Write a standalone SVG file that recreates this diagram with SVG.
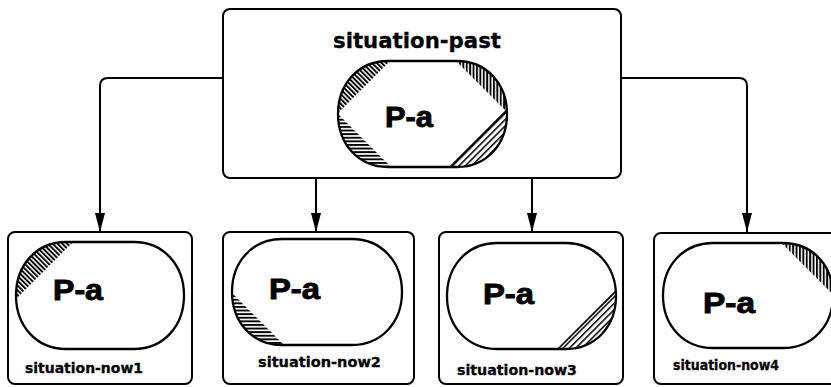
<svg xmlns="http://www.w3.org/2000/svg" xmlns:xlink="http://www.w3.org/1999/xlink" width="831" height="387" viewBox="0 0 831 387">
<style>
.box{fill:#fff;stroke:#000;stroke-width:2}
.st{fill:none;stroke:#000;stroke-width:2.3}
.conn{fill:none;stroke:#000;stroke-width:2}
.lbl{font-family:"DejaVu Sans","Liberation Sans",sans-serif;font-weight:bold;fill:#000;stroke:#000;stroke-width:0.3}
.pa{font-family:"Liberation Sans","DejaVu Sans",sans-serif;font-weight:bold;font-size:29px;fill:#000;stroke:#000;stroke-width:0.9}
</style>
<defs>
<marker id="arr" viewBox="0 0 19 10" refX="19" refY="5" markerWidth="19" markerHeight="10" markerUnits="userSpaceOnUse" orient="auto">
<path d="M0,0 L19,5 L0,10 Z" fill="#000"/>
</marker>
<pattern id="hBack" width="3.4" height="10" patternUnits="userSpaceOnUse" patternTransform="rotate(-45)"><rect width="1.9" height="10" fill="#000"/></pattern>
<pattern id="hVert" width="3.4" height="10" patternUnits="userSpaceOnUse"><rect width="1.9" height="10" fill="#000"/></pattern>
<pattern id="hHor" width="10" height="3.6" patternUnits="userSpaceOnUse"><rect width="10" height="1.9" fill="#000"/></pattern>
<pattern id="hFwd" width="4.5" height="10" patternUnits="userSpaceOnUse" patternTransform="rotate(45)"><rect width="1.5" height="10" fill="#000"/></pattern>
<path id="s0" d="M388,61 H457 C486,61 507,83.3 507,114 C507,144.7 486,167 457,167 H388 C359,167 338,144.7 338,114 C338,83.3 359,61 388,61 Z"/>
<path id="s1" d="M66,242 H134 C163,242 184,264.5 184,295.5 C184,326.5 163,349 134,349 H66 C37,349 16,326.5 16,295.5 C16,264.5 37,242 66,242 Z"/>
<path id="s2" d="M282,239 H352 C381,239 402,261.3 402,292 C402,322.7 381,345 352,345 H282 C253,345 232,322.7 232,292 C232,261.3 253,239 282,239 Z"/>
<path id="s3" d="M497,243 H566 C595,243 616,265.3 616,296 C616,326.7 595,349 566,349 H497 C468,349 447,326.7 447,296 C447,265.3 468,243 497,243 Z"/>
<path id="s4" d="M713,243 H783 C812,243 833,265 833,295.5 C833,326 812,348 783,348 H713 C684,348 663,326 663,295.5 C663,265 684,243 713,243 Z"/>
<clipPath id="c0"><use xlink:href="#s0"/></clipPath>
<clipPath id="c1"><use xlink:href="#s1"/></clipPath>
<clipPath id="c2"><use xlink:href="#s2"/></clipPath>
<clipPath id="c3"><use xlink:href="#s3"/></clipPath>
<clipPath id="c4"><use xlink:href="#s4"/></clipPath>
</defs>
<rect width="831" height="387" fill="#fff"/>
<g id="connectors">
<path class="conn" d="M223,78 H108 Q100,78 100,86 V232" marker-end="url(#arr)"/>
<path class="conn" d="M621,78 H739 Q747,78 747,86 V232" marker-end="url(#arr)"/>
<path class="conn" d="M316,178 V232" marker-end="url(#arr)"/>
<path class="conn" d="M532,178 V232" marker-end="url(#arr)"/>
</g>
<g id="situation-past">
<rect class="box" x="223" y="9" width="398" height="169" rx="7"/>
<text class="lbl" x="333" y="48" font-size="21" textLength="168" lengthAdjust="spacingAndGlyphs">situation-past</text>
<use xlink:href="#s0" fill="#fff"/>
<g clip-path="url(#c0)">
<polygon points="395,56 333,118 330,50" fill="url(#hBack)"/>
<polygon points="452,57 514,119 514,50" fill="url(#hVert)"/>
<polygon points="333,109 396,172 333,172" fill="url(#hHor)"/>
<polygon points="513,104 445,172 513,172" fill="url(#hFwd)"/>
<line x1="513" y1="104" x2="445" y2="172" stroke="#000" stroke-width="1.6"/>
</g>
<use xlink:href="#s0" class="st"/>
<text class="pa" x="385" y="127" textLength="48" lengthAdjust="spacingAndGlyphs">P-a</text>
</g>
<g id="situation-now1">
<rect class="box" x="8" y="232" width="184" height="152" rx="7"/>
<use xlink:href="#s1" fill="#fff"/>
<g clip-path="url(#c1)">
<polygon points="76,239 12,303 12,239" fill="url(#hBack)"/>
</g>
<use xlink:href="#s1" class="st"/>
<text class="pa" x="53" y="300" textLength="50" lengthAdjust="spacingAndGlyphs">P-a</text>
<text class="lbl" x="25" y="373" font-size="14" textLength="118" lengthAdjust="spacingAndGlyphs">situation-now1</text>
</g>
<g id="situation-now2">
<rect class="box" x="223" y="232" width="191" height="152" rx="7"/>
<use xlink:href="#s2" fill="#fff"/>
<g clip-path="url(#c2)">
<polygon points="228,289 288,349 228,349" fill="url(#hHor)"/>
</g>
<use xlink:href="#s2" class="st"/>
<text class="pa" x="269" y="299" textLength="51" lengthAdjust="spacingAndGlyphs">P-a</text>
<text class="lbl" x="258" y="367" font-size="14" textLength="123" lengthAdjust="spacingAndGlyphs">situation-now2</text>
</g>
<g id="situation-now3">
<rect class="box" x="439" y="232" width="184" height="152" rx="7"/>
<use xlink:href="#s3" fill="#fff"/>
<g clip-path="url(#c3)">
<polygon points="620,287 554,353 620,353" fill="url(#hFwd)"/>
<line x1="620" y1="287" x2="554" y2="353" stroke="#000" stroke-width="1.6"/>
</g>
<use xlink:href="#s3" class="st"/>
<text class="pa" x="483" y="304" textLength="51" lengthAdjust="spacingAndGlyphs">P-a</text>
<text class="lbl" x="457" y="375" font-size="14" textLength="120" lengthAdjust="spacingAndGlyphs">situation-now3</text>
</g>
<g id="situation-now4">
<rect class="box" x="654" y="233" width="186" height="151" rx="7"/>
<use xlink:href="#s4" fill="#fff"/>
<g clip-path="url(#c4)">
<polygon points="778,239.5 838,299.5 838,239" fill="url(#hVert)"/>
</g>
<use xlink:href="#s4" class="st"/>
<text class="pa" x="703" y="313" textLength="52" lengthAdjust="spacingAndGlyphs">P-a</text>
<text class="lbl" x="673" y="370" font-size="14" textLength="106" lengthAdjust="spacingAndGlyphs">situation-now4</text>
</g>
</svg>
